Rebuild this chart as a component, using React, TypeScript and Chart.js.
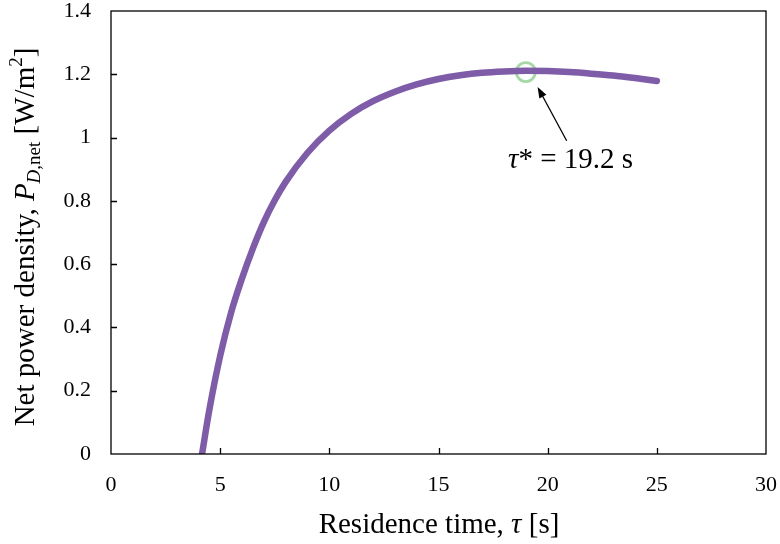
import React, { useEffect, useRef } from "react";
import { Chart, registerables } from "chart.js";

Chart.register(...registerables);

// Residence time τ [s]
const tau = [4.17, 4.5, 5, 5.5, 6, 6.5, 7, 7.5, 8, 9, 10, 11, 12, 13, 14, 15, 16, 17, 18, 19, 20, 21, 22, 23, 24, 25];
// Net power density P_D,net [W/m²]
const power = [0, 0.138, 0.31, 0.447, 0.555, 0.65, 0.733, 0.802, 0.86, 0.952, 1.022, 1.075, 1.115, 1.145, 1.168, 1.185, 1.197, 1.205, 1.209, 1.211, 1.21, 1.207, 1.202, 1.196, 1.188, 1.179];
// Optimum marker
const optimumTau = [19.0];
const optimumPower = [1.207];
const annotationText = "19.2 s";

const X_MIN = 0, X_MAX = 30, X_STEP = 5;
const Y_MIN = 0, Y_MAX = 1.4, Y_STEP = 0.2;

const SERIF = "'Liberation Serif', 'Times New Roman', serif";
const TITLE = 29;
const SUB = 19;

function drawRuns(ctx: CanvasRenderingContext2D, runs: { t: string; size: number; italic?: boolean; dy?: number }[], x: number, y: number, align: "left" | "center") {
  let total = 0;
  const widths = runs.map((r) => {
    ctx.font = `${r.italic ? "italic " : ""}${r.size}px ${SERIF}`;
    const w = ctx.measureText(r.t).width;
    total += w;
    return w;
  });
  let cx = align === "center" ? x - total / 2 : x;
  runs.forEach((r, i) => {
    ctx.font = `${r.italic ? "italic " : ""}${r.size}px ${SERIF}`;
    ctx.fillText(r.t, cx, y + (r.dy || 0));
    cx += widths[i];
  });
}

const decorPlugin = {
  id: "decor",
  afterDraw(chart: any) {
    const { ctx, chartArea } = chart;
    const xs = chart.scales.x;
    const ys = chart.scales.y;
    const { left, right, top, bottom } = chartArea;
    ctx.save();
    // frame
    ctx.strokeStyle = "#000";
    ctx.lineWidth = 1.3;
    ctx.strokeRect(left, top, right - left, bottom - top);
    // inward ticks
    ctx.beginPath();
    for (let v = X_MIN + X_STEP; v < X_MAX; v += X_STEP) {
      const px = Math.round(xs.getPixelForValue(v)) + 0.5;
      ctx.moveTo(px, bottom);
      ctx.lineTo(px, bottom - 6);
    }
    for (let v = Y_MIN + Y_STEP; v < Y_MAX - 1e-6; v += Y_STEP) {
      const py = Math.round(ys.getPixelForValue(v)) + 0.5;
      ctx.moveTo(left, py);
      ctx.lineTo(left + 6, py);
    }
    ctx.stroke();

    ctx.fillStyle = "#000";
    ctx.textBaseline = "alphabetic";
    // x title
    drawRuns(ctx, [
      { t: "Residence time, ", size: TITLE },
      { t: "τ", size: TITLE, italic: true },
      { t: " [s]", size: TITLE },
    ], 439, 533, "center");

    // y title
    ctx.save();
    ctx.translate(34, 237);
    ctx.rotate(-Math.PI / 2);
    drawRuns(ctx, [
      { t: "Net power density, ", size: TITLE },
      { t: "P", size: TITLE, italic: true },
      { t: "D", size: SUB, italic: true, dy: 6 },
      { t: ",net", size: SUB, dy: 6 },
      { t: " [W/m", size: TITLE },
      { t: "2", size: SUB, dy: -12 },
      { t: "]", size: TITLE },
    ], 0, 0, "center");
    ctx.restore();

    // annotation arrow
    const tipX = xs.getPixelForValue(19.54);
    const tipY = ys.getPixelForValue(1.16);
    const tailX = xs.getPixelForValue(20.87);
    const tailY = ys.getPixelForValue(0.99);
    const ang = Math.atan2(tipY - tailY, tipX - tailX);
    ctx.strokeStyle = "#000";
    ctx.lineWidth = 1.3;
    ctx.beginPath();
    ctx.moveTo(tailX, tailY);
    ctx.lineTo(tipX - 8 * Math.cos(ang), tipY - 8 * Math.sin(ang));
    ctx.stroke();
    ctx.beginPath();
    ctx.moveTo(tipX, tipY);
    ctx.lineTo(tipX - 11 * Math.cos(ang) + 4 * Math.sin(ang), tipY - 11 * Math.sin(ang) - 4 * Math.cos(ang));
    ctx.lineTo(tipX - 11 * Math.cos(ang) - 4 * Math.sin(ang), tipY - 11 * Math.sin(ang) + 4 * Math.cos(ang));
    ctx.closePath();
    ctx.fill();

    // annotation text
    drawRuns(ctx, [
      { t: "τ", size: TITLE, italic: true },
      { t: "* = " + annotationText, size: TITLE },
    ], 508, ys.getPixelForValue(0.904), "left");
    ctx.restore();
  },
};

function zeroPad(s: any) {
  s.paddingTop = 0;
  s.paddingBottom = 0;
  s.paddingLeft = 0;
  s.paddingRight = 0;
}

export default function App() {
  const ref = useRef<HTMLCanvasElement | null>(null);
  useEffect(() => {
    document.body.style.margin = "0";
    const chart = new Chart(ref.current as HTMLCanvasElement, {
      type: "line",
      data: {
        datasets: [
          {
            data: tau.map((t, i) => ({ x: t, y: power[i] })),
            borderColor: "#7e5ca8",
            borderWidth: 6.5,
            borderCapStyle: "round",
            pointRadius: 0,
            pointHoverRadius: 0,
            cubicInterpolationMode: "monotone",
            fill: false,
          },
          {
            data: optimumTau.map((t, i) => ({ x: t, y: optimumPower[i] })),
            showLine: false,
            pointRadius: 9.5,
            pointHoverRadius: 0,
            pointBorderWidth: 2.8,
            pointBorderColor: "#a6d7a6",
            pointBackgroundColor: "rgba(0,0,0,0)",
          },
        ],
      },
      options: {
        animation: false,
        responsive: true,
        maintainAspectRatio: false,
        events: [],
        layout: { autoPadding: false, padding: { left: 0, right: 14, top: 11, bottom: 0 } },
        plugins: { legend: { display: false }, tooltip: { enabled: false } },
        scales: {
          x: {
            type: "linear",
            min: X_MIN,
            max: X_MAX,
            grid: { display: false, drawTicks: false },
            border: { display: false },
            ticks: { stepSize: X_STEP, color: "#000", font: { family: SERIF, size: 22 }, padding: 18, maxRotation: 0 },
            afterFit: (s: any) => { s.height = 90; zeroPad(s); },
          },
          y: {
            type: "linear",
            min: Y_MIN,
            max: Y_MAX,
            grid: { display: false, drawTicks: false },
            border: { display: false },
            ticks: {
              stepSize: Y_STEP,
              color: "#000",
              font: { family: SERIF, size: 22 },
              padding: 20,
              callback: (v: any) => String(Number(Number(v).toFixed(2))),
            },
            afterFit: (s: any) => { s.width = 111; zeroPad(s); },
          },
        },
      },
      plugins: [decorPlugin],
    } as any);
    return () => chart.destroy();
  }, []);
  return (
    <div style={{ position: "absolute", left: 0, top: 0, width: 780, height: 544 }}>
      <canvas ref={ref} />
    </div>
  );
}
